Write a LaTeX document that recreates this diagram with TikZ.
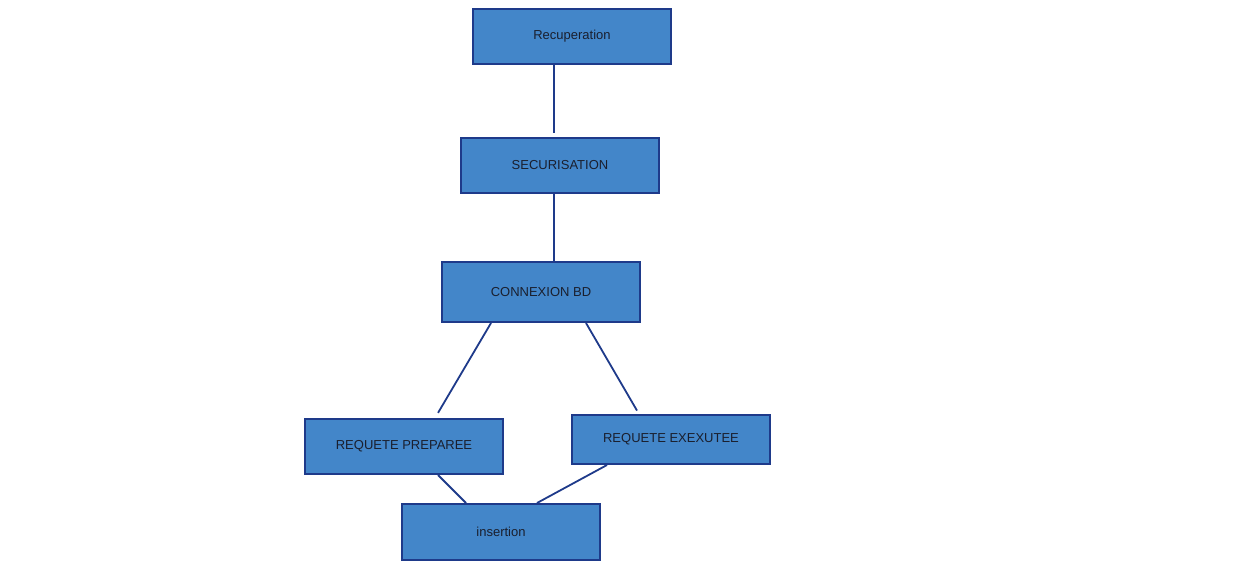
\documentclass[tikz,border=0pt]{standalone}
\usepackage{fontspec}
\setmainfont{Liberation Sans}
\usepackage{tikz}

\definecolor{boxfill}{HTML}{4386C9}
\definecolor{boxline}{HTML}{1E3A8A}
\definecolor{boxtext}{HTML}{1A1F2E}

\begin{document}
\begin{tikzpicture}[
		x=1pt, y=-1pt,
		every node/.style={rectangle, draw=boxline, fill=boxfill, line width=2pt,
			minimum width=198pt, inner sep=0pt, text=boxtext, font=\fontsize{13}{15}\selectfont},
		link/.style={draw=boxline, line width=1.8pt}
	]
  \useasboundingbox (0,0) rectangle (1252,563);
  \node (rec) [minimum height=55pt] at (572, 36.5) {Recuperation};
  \node (sec) [minimum height=55pt] at (560, 165.5) {SECURISATION};
  \node (cnx) [minimum height=60pt] at (541, 292) {CONNEXION BD};
  \node (prep) [minimum height=55pt] at (404, 446.5) {REQUETE PREPAREE};
  \node (exe) [minimum height=49pt] at (671, 439.5) {REQUETE EXEXUTEE};
  \node (ins) [minimum height=56pt] at (501, 532) {insertion};
  \draw [link, shorten >=4pt] ([xshift=-18]rec.south) -- ([xshift=-6]sec.north);
  \draw [link] ([xshift=-6]sec.south) -- ([xshift=13]cnx.north);
  \draw [link, shorten >=6pt] ([xshift=-50]cnx.south) -- ([xshift=31]prep.north);
  \draw [link, shorten >=4pt] ([xshift=45]cnx.south) -- ([xshift=-32]exe.north);
  \draw [link] ([xshift=34]prep.south) -- ([xshift=-35]ins.north);
  \draw [link] ([xshift=-64]exe.south) -- ([xshift=36]ins.north);
\end{tikzpicture}
\end{document}
